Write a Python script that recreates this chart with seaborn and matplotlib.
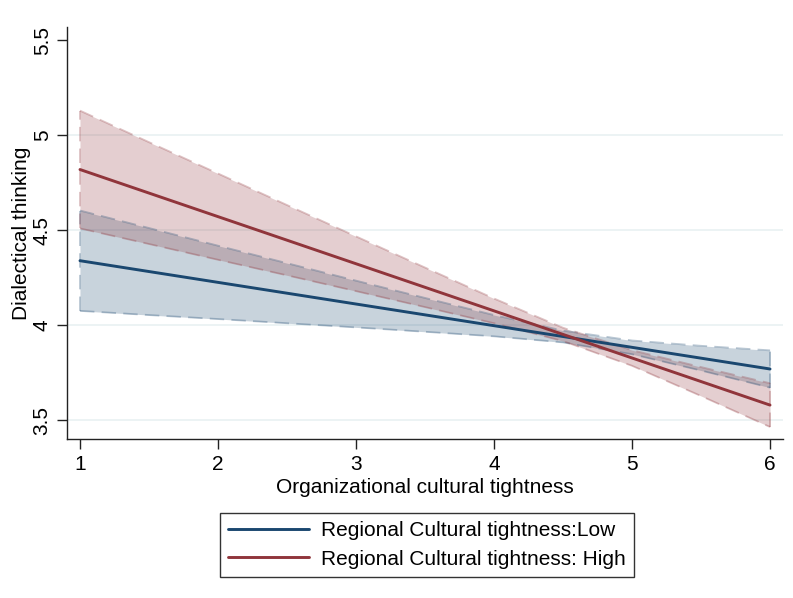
import numpy as np
import pandas as pd
import matplotlib
matplotlib.use("Agg")
import matplotlib.pyplot as plt
import seaborn as sns

# Predicted dialectical thinking by organizational cultural tightness
tightness = [1.0, 1.5, 2.0, 2.5, 3.0, 3.5, 4.0, 4.5, 5.0, 5.5, 6.0]

low_fit = [4.340, 4.283, 4.226, 4.169, 4.112, 4.055, 3.998, 3.941, 3.884, 3.827, 3.770]
low_lo = [4.076, 4.054, 4.033, 4.011, 3.989, 3.966, 3.942, 3.910, 3.848, 3.762, 3.672]
low_hi = [4.604, 4.512, 4.419, 4.327, 4.235, 4.144, 4.054, 3.972, 3.920, 3.892, 3.868]

high_fit = [4.820, 4.696, 4.572, 4.448, 4.324, 4.200, 4.076, 3.952, 3.828, 3.704, 3.580]
high_lo = [4.510, 4.428, 4.345, 4.263, 4.180, 4.096, 4.011, 3.917, 3.787, 3.628, 3.465]
high_hi = [5.130, 4.964, 4.799, 4.633, 4.468, 4.304, 4.141, 3.987, 3.869, 3.780, 3.695]

group_labels = ["Regional Cultural tightness:Low", "Regional Cultural tightness: High"]
x_ticks = [1, 2, 3, 4, 5, 6]
y_ticks = [3.5, 4, 4.5, 5, 5.5]

navy = "#1a476f"
maroon = "#90353b"

sns.set_theme(style="white")
plt.rcParams["font.family"] = ["Liberation Sans", "DejaVu Sans"]

df = pd.DataFrame({
    "x": tightness * 2,
    "y": low_fit + high_fit,
    "group": [group_labels[0]] * len(tightness) + [group_labels[1]] * len(tightness),
})

fig = plt.figure(figsize=(7.93, 5.98), dpi=100)
ax = fig.add_axes([0.0845, 0.2654, 0.9874 - 0.0845, 0.9548 - 0.2654])

# confidence bands with dashed outlines
edge_style = dict(alpha=0.3, lw=1.3, linestyle=(0, (8, 4)), zorder=3)
for lo, hi, col in [(low_lo, low_hi, navy), (high_lo, high_hi, maroon)]:
    ax.fill_between(tightness, lo, hi, color=col, alpha=0.24, linewidth=0, zorder=2)
    for edge in (lo, hi):
        ax.plot(tightness, edge, color=col, **edge_style)
    ax.plot([tightness[0]] * 2, [lo[0], hi[0]], color=col, **edge_style)
    ax.plot([tightness[-1]] * 2, [lo[-1], hi[-1]], color=col, **edge_style)

sns.lineplot(data=df, x="x", y="y", hue="group", palette=[navy, maroon],
             linewidth=2.1, ax=ax, legend=False, zorder=4)

ax.set_xlim(0.906, 6.094)
ax.set_ylim(3.40, 5.57)
ax.set_xticks(x_ticks)
ax.set_xticklabels([str(t) for t in x_ticks])
ax.set_yticks(y_ticks)
ax.set_yticklabels(["3.5", "4", "4.5", "5", "5.5"], rotation=90, va="center")

for yv in [3.5, 4, 4.5, 5]:
    ax.axhline(yv, color="#eaf2f3", lw=1.3, zorder=1)

for s in ["top", "right"]:
    ax.spines[s].set_visible(False)
for s in ["left", "bottom"]:
    ax.spines[s].set_color("#222222")
    ax.spines[s].set_linewidth(1.0)

ax.tick_params(axis="both", which="major", direction="out", length=7, width=1.0,
               color="#222222", labelsize=15, labelcolor="black", pad=4,
               left=True, bottom=True)
ax.set_xlabel("Organizational cultural tightness", fontsize=15, color="black", labelpad=3)
ax.set_ylabel("Dialectical thinking", fontsize=15, color="black", labelpad=1)

handles = [plt.Line2D([], [], color=navy, lw=2.1), plt.Line2D([], [], color=maroon, lw=2.1)]
leg = fig.legend(handles, group_labels, loc="center", bbox_to_anchor=(0.538, 0.0886),
                 frameon=True, fancybox=False, fontsize=15, handlelength=3.9,
                 handletextpad=0.55, borderpad=0.4, labelspacing=0.45,
                 borderaxespad=0, labelcolor="black")
leg.get_frame().set_edgecolor("black")
leg.get_frame().set_linewidth(1.0)

fig.savefig("out.png", dpi=100, facecolor="white")
